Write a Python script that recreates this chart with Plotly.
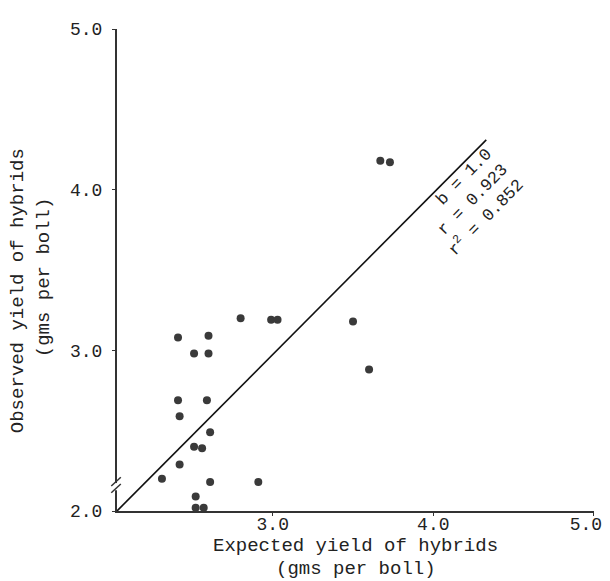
import plotly.graph_objects as go

# Expected vs observed yield of hybrids (gms per boll)
expected = [2.41, 2.60, 2.51, 2.60, 2.41, 2.59, 2.42, 2.61, 2.51, 2.56, 2.42, 2.31,
            2.61, 2.91, 2.52, 2.52, 2.57, 2.80, 2.99, 3.03, 3.50, 3.60, 3.67, 3.73]
observed = [3.08, 3.09, 2.98, 2.98, 2.69, 2.69, 2.59, 2.49, 2.40, 2.39, 2.29, 2.20,
            2.18, 2.18, 2.09, 2.02, 2.02, 3.20, 3.19, 3.19, 3.18, 2.88, 4.18, 4.17]

# regression line (b = 1.0)
fit_x = [2.03, 4.33]
fit_y = [2.00, 4.31]

x_ticks = [3.0, 4.0, 5.0]
x_ticktext = ["3.0", "4.0", ""]
x_end_tick = [5.0]
x_end_text = ["5.0"]
y_ticks = [2.0, 3.0, 4.0, 5.0]
y_ticktext = ["2.0", "3.0", "4.0", "5.0"]

stats_text = "b = 1.0<br>r = 0.923<br>r<sup>2</sup> = 0.852"

FONT = "Liberation Mono"
INK = "#222222"
X_RANGE = [2.03, 5.001]

fig = go.Figure()
# regression line drawn on the overlaying x axis (same range) so that axis is rendered
fig.add_trace(go.Scatter(x=fit_x, y=fit_y, mode="lines", xaxis="x2", yaxis="y",
                         line=dict(color="#111111", width=1.6),
                         showlegend=False, hoverinfo="skip"))
fig.add_trace(go.Scatter(x=expected, y=observed, mode="markers",
                         marker=dict(size=8, color="#3a3a3a", line=dict(width=0)),
                         showlegend=False, cliponaxis=False))

# the page body adds an 8px margin, so the figure margins are offset accordingly
fig.update_layout(
    width=610, height=581,
    margin=dict(l=109, r=24, t=12, b=78),
    plot_bgcolor="white", paper_bgcolor="white",
    font=dict(family=FONT, color=INK, size=18),
    xaxis=dict(range=X_RANGE, showgrid=False, zeroline=False,
               showline=True, linecolor="#333333", linewidth=1.5,
               tickvals=x_ticks, ticktext=x_ticktext,
               ticks="outside", ticklen=3, tickcolor="#333333",
               ticklabelstandoff=-7,
               tickfont=dict(family=FONT, size=18, color=INK)),
    xaxis2=dict(range=X_RANGE, overlaying="x", anchor="y", side="bottom",
                showgrid=False, zeroline=False, showline=False,
                tickvals=x_end_tick, ticktext=x_end_text,
                ticks="outside", ticklen=3, tickcolor="rgba(0,0,0,0)",
                ticklabelstandoff=-7, ticklabelshift=-8,
                tickfont=dict(family=FONT, size=18, color=INK)),
    yaxis=dict(range=[2.0, 5.0], showgrid=False, zeroline=False,
               showline=True, linecolor="#333333", linewidth=2,
               tickvals=y_ticks, ticktext=y_ticktext,
               ticks="outside", ticklen=3, tickcolor="#333333",
               ticklabelstandoff=6,
               tickfont=dict(family=FONT, size=18, color=INK)),
)

annotations = [
    dict(text=stats_text, x=4.23, y=3.92, xref="x", yref="y",
         textangle=-45.7, align="right", showarrow=False,
         xanchor="center", yanchor="middle",
         font=dict(family=FONT, size=17, color=INK)),
    dict(text="Expected yield of hybrids", x=0.5, y=0, yshift=-35,
         xref="paper", yref="paper",
         showarrow=False, xanchor="center", yanchor="middle",
         font=dict(family=FONT, size=19, color=INK)),
    dict(text="(gms per boll)", x=0.5, y=0, yshift=-58,
         xref="paper", yref="paper",
         showarrow=False, xanchor="center", yanchor="middle",
         font=dict(family=FONT, size=19, color=INK)),
    dict(text="Observed yield of hybrids", x=0, y=0.456, xref="paper", yref="paper",
         xshift=-99, textangle=-90, showarrow=False, xanchor="center", yanchor="middle",
         font=dict(family=FONT, size=19, color=INK)),
    dict(text="(gms per boll)", x=0, y=0.485, xref="paper", yref="paper",
         xshift=-73, textangle=-90, showarrow=False, xanchor="center", yanchor="middle",
         font=dict(family=FONT, size=19, color=INK)),
]
fig.update_layout(annotations=annotations)

# axis break marks on the y axis
shapes = [
    dict(type="rect", xref="paper", yref="paper", x0=-0.012, x1=0.008, y0=0.043, y1=0.058,
         fillcolor="white", line=dict(width=0), layer="above"),
    dict(type="line", xref="paper", yref="paper", x0=-0.012, y0=0.038, x1=0.008, y1=0.056,
         line=dict(color="#333333", width=1.5), layer="above"),
    dict(type="line", xref="paper", yref="paper", x0=-0.012, y0=0.052, x1=0.008, y1=0.070,
         line=dict(color="#333333", width=1.5), layer="above"),
]
fig.update_layout(shapes=shapes)

fig.write_html("out.html")
